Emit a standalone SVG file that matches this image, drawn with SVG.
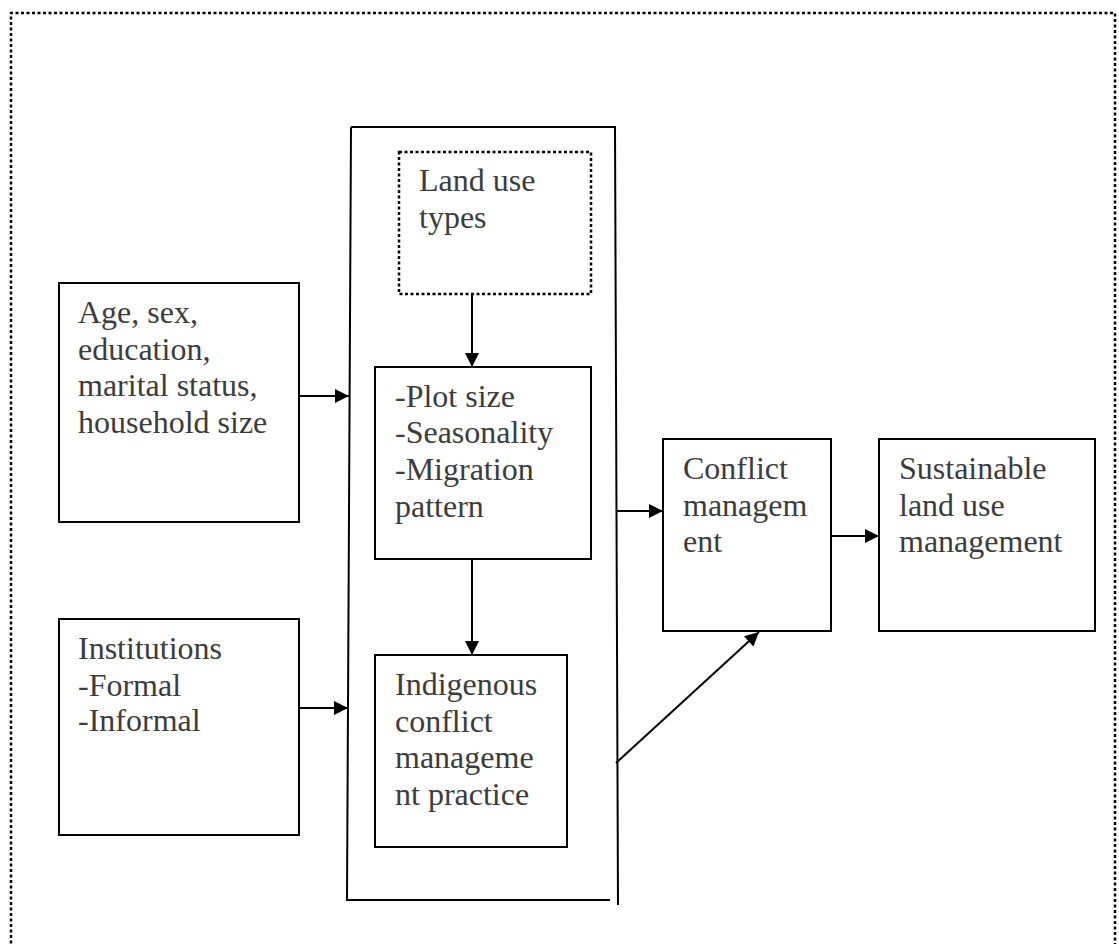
<svg xmlns="http://www.w3.org/2000/svg" width="1119" height="944" viewBox="0 0 1119 944">
<defs>
<marker id="ah" viewBox="0 0 10 10" refX="10" refY="5" markerWidth="15" markerHeight="14" markerUnits="userSpaceOnUse" orient="auto">
<path d="M0,0 L10,5 L0,10 Z" fill="#000"/>
</marker>
<style>
.box{fill:#fff;stroke:#000;stroke-width:2}
.dot{fill:none;stroke:#000;stroke-width:2.5;stroke-dasharray:3,2.5}
.ln{fill:none;stroke:#000;stroke-width:2}
.cn{fill:none;stroke:#000;stroke-width:2;marker-end:url(#ah)}
text{font-family:"Liberation Serif","Times New Roman",serif;font-size:32px;fill:#3c3c3c}
</style>
</defs>
<rect width="1119" height="944" fill="#fff"/>
<path class="dot" d="M11,960 L11,13 L1115,13 L1115,960"/>
<g id="container">
<path class="ln" d="M351,127 L615,127 L618,905"/>
<path class="ln" d="M351,127 L347,900 L610,900"/>
</g>
<g id="landuse">
<rect class="dot" x="399" y="152" width="192" height="142"/>
<text x="419" y="191">Land use</text>
<text x="419" y="228">types</text>
</g>
<g id="plot">
<rect class="box" x="375" y="367" width="216" height="192"/>
<text x="395" y="407">-Plot size</text>
<text x="395" y="443">-Seasonality</text>
<text x="395" y="480">-Migration</text>
<text x="395" y="517">pattern</text>
</g>
<g id="indigenous">
<rect class="box" x="375" y="655" width="192" height="192"/>
<text x="395" y="695">Indigenous</text>
<text x="395" y="732">conflict</text>
<text x="395" y="768">manageme</text>
<text x="395" y="805">nt practice</text>
</g>
<g id="age">
<rect class="box" x="59" y="283" width="240" height="239"/>
<text x="78" y="323">Age, sex,</text>
<text x="78" y="360">education,</text>
<text x="78" y="396">marital status,</text>
<text x="78" y="433">household size</text>
</g>
<g id="institutions">
<rect class="box" x="59" y="619" width="240" height="216"/>
<text x="78" y="659">Institutions</text>
<text x="78" y="696">-Formal</text>
<text x="78" y="731">-Informal</text>
</g>
<g id="conflict">
<rect class="box" x="663" y="439" width="168" height="192"/>
<text x="683" y="479">Conflict</text>
<text x="683" y="516">managem</text>
<text x="683" y="552">ent</text>
</g>
<g id="sustainable">
<rect class="box" x="879" y="439" width="216" height="192"/>
<text x="899" y="479">Sustainable</text>
<text x="899" y="516">land use</text>
<text x="899" y="552">management</text>
</g>
<g id="connectors">
<line class="cn" x1="472" y1="294" x2="472" y2="367"/>
<line class="cn" x1="472" y1="559" x2="472" y2="655"/>
<line class="cn" x1="299" y1="396" x2="349" y2="396"/>
<line class="cn" x1="299" y1="708" x2="348" y2="708"/>
<line class="cn" x1="616" y1="511" x2="663" y2="511"/>
<line class="cn" x1="831" y1="536" x2="879" y2="536"/>
<line class="cn" x1="616" y1="763" x2="759" y2="632"/>
</g>
</svg>
